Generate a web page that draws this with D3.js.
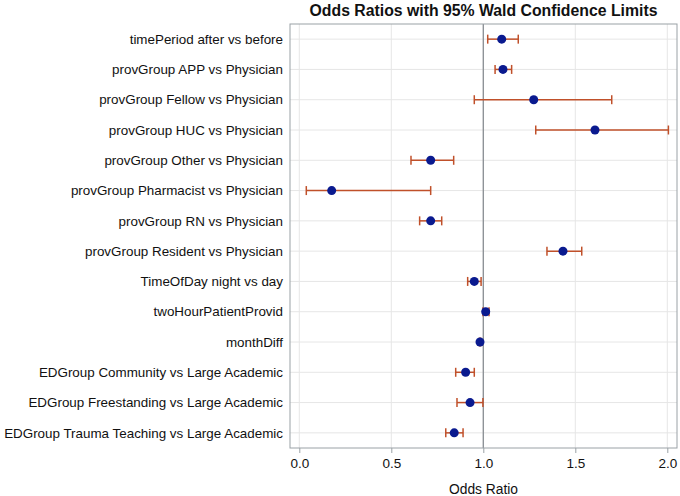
<!DOCTYPE html>
<html>
<head>
<meta charset="utf-8">
<script src="https://cdn.jsdelivr.net/npm/d3@7"></script>
<style>
	body { margin: 0; background: #fff; }
	text { font-family: "Liberation Sans", Arial, sans-serif; }
</style>
</head>
<body>
<script>
// effects, estimates and 95% limits
const effects = [
	'timePeriod after vs before',
	'provGroup APP vs Physician',
	'provGroup Fellow vs Physician',
	'provGroup HUC vs Physician',
	'provGroup Other vs Physician',
	'provGroup Pharmacist vs Physician',
	'provGroup RN vs Physician',
	'provGroup Resident vs Physician',
	'TimeOfDay night vs day',
	'twoHourPatientProvid',
	'monthDiff',
	'EDGroup Community vs Large Academic',
	'EDGroup Freestanding vs Large Academic',
	'EDGroup Trauma Teaching vs Large Academic'
];
const estimates = [1.10, 1.107, 1.274, 1.607, 0.714, 0.176, 0.714, 1.433, 0.951, 1.013, 0.982, 0.904, 0.928, 0.842];
const lowerCL = [1.024, 1.064, 0.951, 1.285, 0.607, 0.038, 0.654, 1.346, 0.915, 0.998, 0.980, 0.850, 0.857, 0.796];
const upperCL = [1.19, 1.154, 1.698, 2.006, 0.839, 0.714, 0.774, 1.535, 0.988, 1.031, 0.985, 0.951, 0.998, 0.890];
const xTicks = [0.0, 0.5, 1.0, 1.5, 2.0];

const width = 680, height = 496;
const plotL = 290, plotR = 677, plotT = 24, plotB = 448;

let svg = d3.select('body').append('svg')
	.attr('width', width)
	.attr('height', height);

let x = d3.scaleLinear().domain([0, 2]).range([299.3, 667.3]);
let y = d3.scalePoint().domain(effects).range([plotT, plotB]).padding(0.5);

let rows = effects.map((e, i) => ({ name: e, est: estimates[i], lo: lowerCL[i], hi: upperCL[i] }));

// grid
svg.append('g').selectAll('line')
	.data(xTicks).enter().append('line')
	.attr('x1', d => x(d)).attr('x2', d => x(d))
	.attr('y1', plotT).attr('y2', plotB)
	.style('stroke', '#e6e6e6');

svg.append('g').selectAll('line')
	.data(effects).enter().append('line')
	.attr('x1', plotL).attr('x2', plotR)
	.attr('y1', d => y(d)).attr('y2', d => y(d))
	.style('stroke', '#e6e6e6');

// reference line at 1
svg.append('line')
	.attr('x1', x(1)).attr('x2', x(1))
	.attr('y1', plotT).attr('y2', plotB)
	.style('stroke', '#8a8f94')
	.style('stroke-width', 1.3);

// frame
svg.append('rect')
	.attr('x', plotL).attr('y', plotT)
	.attr('width', plotR - plotL).attr('height', plotB - plotT)
	.style('fill', 'none')
	.style('stroke', '#9aa1a6');

// x axis
let xAxis = d3.axisBottom(x).tickValues(xTicks).tickFormat(d3.format('.1f')).tickSize(5).tickPadding(5);
let ax = svg.append('g').attr('transform', `translate(0,${plotB})`).call(xAxis);
ax.select('.domain').remove();
ax.selectAll('.tick line').style('stroke', '#9aa1a6');
ax.selectAll('.tick text').style('font-size', '13.5px').style('fill', '#111')
	.style('font-family', '"Liberation Sans", Arial, sans-serif');

svg.append('text')
	.attr('x', (plotL + plotR) / 2).attr('y', 494)
	.attr('text-anchor', 'middle')
	.style('font-size', '13.8px').style('fill', '#111')
	.text('Odds Ratio');

// row labels
svg.append('g').selectAll('text')
	.data(effects).enter().append('text')
	.attr('x', 283)
	.attr('y', d => y(d))
	.attr('dy', '0.35em')
	.attr('text-anchor', 'end')
	.style('font-size', '13.4px').style('fill', '#111')
	.text(d => d);

// error bars
const barColor = '#c0502a';
const cap = 4.5;
let bars = svg.append('g').selectAll('g')
	.data(rows).enter().append('g');
bars.append('line')
	.attr('x1', d => x(d.lo)).attr('x2', d => x(d.hi))
	.attr('y1', d => y(d.name)).attr('y2', d => y(d.name))
	.style('stroke', barColor).style('stroke-width', 1.5);
bars.append('line')
	.attr('x1', d => x(d.lo)).attr('x2', d => x(d.lo))
	.attr('y1', d => y(d.name) - cap).attr('y2', d => y(d.name) + cap)
	.style('stroke', barColor).style('stroke-width', 1.5);
bars.append('line')
	.attr('x1', d => x(d.hi)).attr('x2', d => x(d.hi))
	.attr('y1', d => y(d.name) - cap).attr('y2', d => y(d.name) + cap)
	.style('stroke', barColor).style('stroke-width', 1.5);

// estimates
svg.append('g').selectAll('circle')
	.data(rows).enter().append('circle')
	.attr('cx', d => x(d.est))
	.attr('cy', d => y(d.name))
	.attr('r', 4.5)
	.style('fill', '#0a1a8f');

// title
svg.append('text')
	.attr('x', (plotL + plotR) / 2).attr('y', 16)
	.attr('text-anchor', 'middle')
	.style('font-size', '15.8px').style('font-weight', 'bold').style('fill', '#111')
	.text('Odds Ratios with 95% Wald Confidence Limits');
</script>
</body>
</html>
